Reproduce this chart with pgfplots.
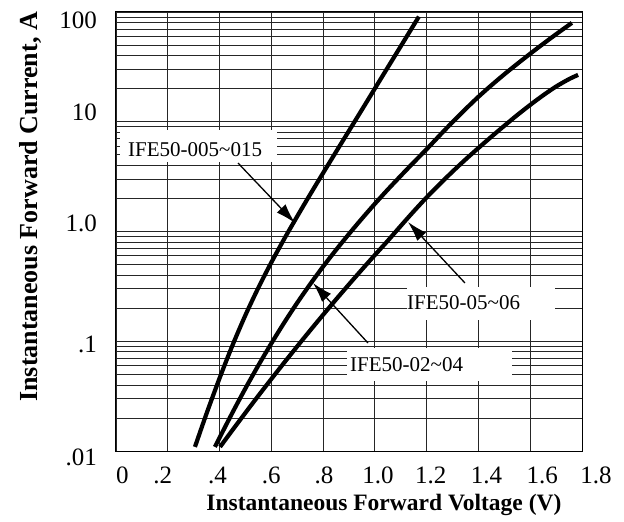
\documentclass[border=0pt]{standalone}
\usepackage{pgfplots}
\pgfplotsset{compat=1.18}
\usepackage{fontspec}
\setmainfont{Liberation Serif}
\usetikzlibrary{arrows.meta}
\begin{document}
\begin{tikzpicture}
\path (-116pt,-71pt) rectangle (508pt,451pt);
\begin{axis}[
  at={(0pt,0pt)}, anchor=south west,
  scale only axis, width=466pt, height=439pt,
  xmin=0, xmax=1.8, ymode=log, ymin=0.01, ymax=100,
  xtick={0,0.2,0.4,0.6,0.8,1.0,1.2,1.4,1.6,1.8},
  xticklabels={\hspace*{13pt}0, .2\hspace*{10pt}, .4\hspace*{4pt}, .6, \hspace*{2pt}.8,
               \hspace*{6pt}1.0, \hspace*{8pt}1.2, \hspace*{16pt}1.4, \hspace*{24pt}1.6, \hspace*{28pt}1.8},
  ytick={0.01,0.1,1,10,100},
  yticklabels={\smash{\raisebox{-14.3pt}{.01}}, \smash{\raisebox{-11.3pt}{.1}},
               \smash{\raisebox{-0.3pt}{1.0}}, \smash{\raisebox{1.7pt}{10}}, \smash{\raisebox{-16.3pt}{100}}},
  major tick length=0pt, minor tick length=0pt,
  xmajorgrids, ymajorgrids, yminorgrids,
  grid style={black!85, line width=0.8pt},
  minor grid style={black!85, line width=0.8pt},
  axis line style={black, line width=1pt},
  x tick label style={font=\fontsize{25}{25}\selectfont, anchor=north, inner sep=0pt, yshift=-16pt},
  y tick label style={font=\fontsize{25}{25}\selectfont, anchor=east, inner sep=0pt, xshift=-19pt},
  xlabel={Instantaneous Forward Voltage (V)},
  ylabel={Instantaneous Forward Current, A},
  every axis x label/.style={at={(axis description cs:0.575,-0.123)}, anchor=center, font=\fontsize{23.5}{24}\selectfont\bfseries},
  every axis y label/.style={at={(axis description cs:-0.1845,0.556)}, rotate=90, anchor=center, font=\fontsize{26}{26}\selectfont\bfseries},
]
% IFE50-005~015
\addplot[black, line width=4.2pt, smooth] coordinates {
  (0.305,0.0109) (0.35,0.02203) (0.40,0.04603) (0.45,0.09183) (0.50,0.1730)
  (0.55,0.3076) (0.60,0.5224) (0.65,0.8570) (0.70,1.374) (0.75,2.178)
  (0.80,3.412) (0.85,5.321) (0.90,8.279) (0.95,12.88) (1.00,20.09)
  (1.05,31.33) (1.10,48.75) (1.15,76.03) (1.17,90.78)};
% IFE50-02~04
\addplot[black, line width=4.2pt, smooth] coordinates {
  (0.382,0.0109) (0.45,0.0224) (0.50,0.0372) (0.55,0.0603) (0.60,0.0955)
  (0.65,0.148) (0.70,0.224) (0.75,0.331) (0.80,0.479) (0.85,0.680)
  (0.90,0.950) (0.95,1.311) (1.00,1.789) (1.05,2.413) (1.10,3.217)
  (1.15,4.266) (1.20,5.623) (1.25,7.499) (1.30,9.94) (1.35,13.03)
  (1.40,16.89) (1.45,21.50) (1.50,27.06) (1.55,33.69) (1.60,41.69)
  (1.65,51.29) (1.70,62.73) (1.75,76.28) (1.761,79.6)};
% IFE50-05~06
\addplot[black, line width=4.2pt, smooth] coordinates {
  (0.402,0.0109) (0.45,0.01552) (0.50,0.02231) (0.55,0.03189) (0.60,0.04529)
  (0.65,0.06397) (0.70,0.08985) (0.75,0.1255) (0.80,0.1742) (0.85,0.2404)
  (0.90,0.3300) (0.95,0.4502) (1.00,0.6109) (1.05,0.8241) (1.10,1.125)
  (1.15,1.526) (1.20,2.046) (1.25,2.698) (1.30,3.516) (1.35,4.529)
  (1.40,5.768) (1.45,7.302) (1.50,9.194) (1.55,11.51) (1.60,14.24)
  (1.65,17.42) (1.70,20.94) (1.75,24.46) (1.785,26.73)};
% white boxes
\node[fill=white, inner sep=0pt, minimum width=157pt, minimum height=32pt] at (rel axis cs:0.1770,0.6948) {};
\node[fill=white, inner sep=0pt, minimum width=148pt, minimum height=33pt] at (rel axis cs:0.7833,0.3360) {};
\node[fill=white, inner sep=0pt, minimum width=165pt, minimum height=33pt] at (rel axis cs:0.6727,0.1970) {};
% texts
\node[anchor=west, inner sep=0pt, font=\fontsize{21}{21}\selectfont] at (rel axis cs:0.0258,0.6856) {IFE50-005\textasciitilde015};
\node[anchor=west, inner sep=0pt, font=\fontsize{21}{21}\selectfont] at (rel axis cs:0.6245,0.3371) {IFE50-05\textasciitilde06};
\node[anchor=west, inner sep=0pt, font=\fontsize{21}{21}\selectfont] at (rel axis cs:0.5021,0.1959) {IFE50-02\textasciitilde04};
% arrows
\draw[-{Latex[length=20pt,width=12pt]}, line width=1.3pt] (rel axis cs:0.2618,0.6560) -- (rel axis cs:0.3841,0.5194);
\draw[-{Latex[length=20pt,width=12pt]}, line width=1.3pt] (rel axis cs:0.7489,0.3827) -- (rel axis cs:0.6266,0.5216);
\draw[-{Latex[length=20pt,width=12pt]}, line width=1.3pt] (rel axis cs:0.5408,0.2460) -- (rel axis cs:0.4227,0.3827);
\end{axis}
\end{tikzpicture}
\end{document}
